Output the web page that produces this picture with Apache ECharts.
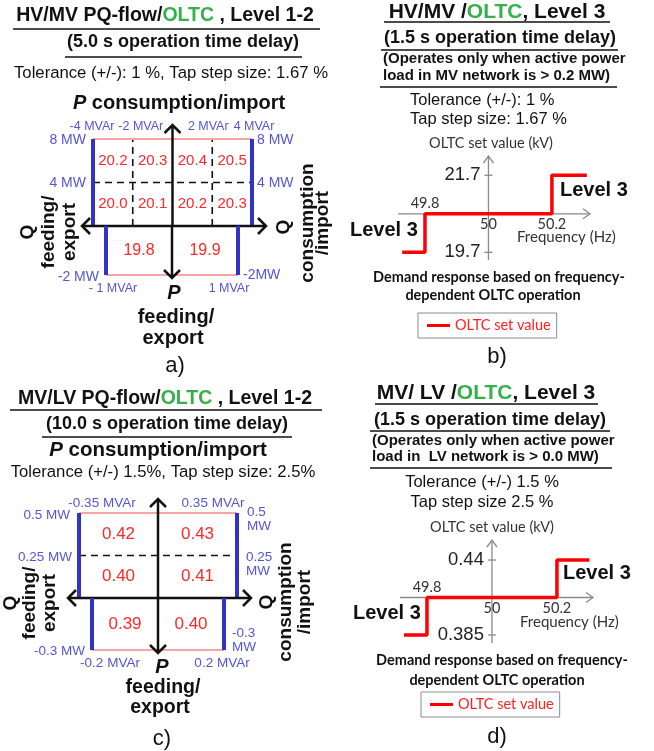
<!DOCTYPE html>
<html><head><meta charset="utf-8">
<script src="https://cdn.jsdelivr.net/npm/echarts@6/dist/echarts.min.js"></script>
<style>html,body{margin:0;padding:0;background:#fff}#c{width:654px;height:751px}</style>
</head><body><div id="c"></div>
<script>
// ================= DATA =================
// a) HV/MV PQ-flow/OLTC, Level 1-2 : OLTC set value (kV) for each PQ cell
const aImportQ = [-4, -2, 0, 2, 4];          // MVAr cell edges (P >= 0)
const aImportP = [0, 4, 8];                  // MW cell edges
const aImportRowLow  = [20.0, 20.1, 20.2, 20.3];   // 0..4 MW
const aImportRowHigh = [20.2, 20.3, 20.4, 20.5];   // 4..8 MW
const aExportQ = [-1, 0, 1];                 // MVAr cell edges (P < 0)
const aExportP = [-2, 0];                    // MW
const aExportRow = [19.8, 19.9];
const aQTopTicks = [-4, -2, 2, 4];
const aQTopLabels = ['-4 MVAr', '-2 MVAr', '2 MVAr', '4 MVAr'];
const aPTicks = [8, 4];
const aPLabels = ['8 MW', '4 MW'];
const aExportQLabels = ['- 1 MVAr', '1 MVAr'];
const aExportPLabels = ['-2 MW', '-2MW'];

// c) MV/LV PQ-flow/OLTC, Level 1-2
const cImportQ = [-0.35, 0, 0.35];
const cImportP = [0, 0.25, 0.5];
const cImportRowLow  = [0.40, 0.41];
const cImportRowHigh = [0.42, 0.43];
const cExportQ = [-0.2, 0, 0.2];
const cExportP = [-0.3, 0];
const cExportRow = [0.39, 0.40];
const cQTopLabels = ['-0.35 MVAr', '0.35 MVAr'];
const cPTicks = [0.5, 0.25];
const cPLabelsLeft = ['0.5 MW', '0.25 MW'];
const cPLabelsRight = ['0.5\nMW', '0.25\nMW'];
const cExportQLabels = ['-0.2 MVAr', '0.2 MVAr'];
const cExportPLabels = ['-0.3 MW', '-0.3\nMW'];

// b) HV/MV OLTC Level 3 : set value vs frequency (step)
const nominalHz = 50;
const bFreq  = [49.728, 49.8, 50.2, 50.31];
const bSetKV = [19.7, 20.7, 21.7, 21.7];
const bFreqTicks = [49.8, 50, 50.2];
const bKVTicks = [21.7, 19.7];
const bMidKV = 20.7;
// d) MV/LV OLTC Level 3
const dFreq  = [49.729, 49.8, 50.2, 50.30];
const dSetKV = [0.385, 0.4125, 0.44, 0.44];
const dFreqTicks = [49.8, 50, 50.2];
const dKVTicks = [0.44, 0.385];
const dMidKV = 0.4125;

// ================= STYLE =================
const SANS = 'Liberation Sans, Arial, sans-serif';
const CAL = 'Lato, sans-serif';
const INK = '#111';
const BLUE_LINE = '#3232c6', BLUE_TXT = '#5555d6', PINK = '#f5a5a5', RED_TXT = '#ff2828',
      GREEN = '#36b04a', RED = '#ff0000', GRAY = '#8a8a8a';

const grids = [
  {left: 93,  top: 139, width: 159, height: 87},   // 0 a import
  {left: 106, top: 226, width: 132, height: 49},   // 1 a export
  {left: 79,  top: 513, width: 158, height: 85},   // 2 c import
  {left: 92,  top: 598, width: 132, height: 52},   // 3 c export
  {left: 398, top: 156, width: 192, height: 104},  // 4 b
  {left: 400, top: 540, width: 193, height: 103}   // 5 d
];
const xRanges = [[aImportQ[0], aImportQ[4]], [aExportQ[0], aExportQ[2]],
                 [cImportQ[0], cImportQ[2]], [cExportQ[0], cExportQ[2]],
                 [49.715, 50.32], [49.717, 50.311]];
const yRanges = [[aImportP[0], aImportP[2]], [aExportP[0], aExportP[1]],
                 [cImportP[0], cImportP[2]], [cExportP[0], cExportP[1]],
                 [19.5, 22.2], [0.3791, 0.4547]];

function lab(q, p, text, dx, dy, align, size) { return {q, p, text, dx, dy, align, size}; }

function pqSeries(o) {
  const {grid, qE, pE, rows, digits, cellSize, upper, labels} = o;
  const cells = [];
  rows.forEach((row, i) => row.forEach((v, j) =>
    cells.push([(qE[j] + qE[j + 1]) / 2, (pE[i] + pE[i + 1]) / 2, v])));
  const qMin = qE[0], qMax = qE[qE.length - 1];
  const pFar = upper ? pE[pE.length - 1] : pE[0];
  const segs = [];
  pE.forEach(p => { if (p !== 0 && p !== pFar) segs.push([qMin, p, qMax, p, 2]); });
  qE.forEach(q => { if (q !== 0 && q !== qMin && q !== qMax) segs.push([q, 0, q, pFar, 2]); });
  segs.push([qMin, pFar, qMax, pFar, 1], [qMin, 0, qMin, pFar, 0], [qMax, 0, qMax, pFar, 0]);
  if (upper) segs.push([qMin, 0, qMax, 0, 3]);
  segs.push([0, 0, 0, pFar, 4]);
  const base = {type: 'custom', xAxisIndex: grid, yAxisIndex: grid, silent: true, clip: false};
  const AX = {stroke: INK, lineWidth: 2.5, fill: 'none'};
  const ln = (x1, y1, x2, y2, style) => ({type: 'line', shape: {x1, y1, x2, y2}, style});
  return [
    {...base, z: 2, data: segs, renderItem: (params, api) => {
      const a = api.coord([api.value(0), api.value(1)]);
      const b = api.coord([api.value(2), api.value(3)]);
      const k = api.value(4);
      if (k === 0) return ln(a[0], a[1], b[0], b[1], {stroke: BLUE_LINE, lineWidth: 4});
      if (k === 1) return ln(a[0], a[1], b[0], b[1], {stroke: PINK, lineWidth: 2});
      if (k === 2) return ln(a[0], a[1], b[0], b[1], {stroke: INK, lineWidth: 1.6, lineDash: [7, 5]});
      if (k === 3) {
        const x1 = a[0] - 11, x2 = b[0] + 14, y = a[1];
        return {type: 'group', children: [
          ln(x1, y, x2, y, AX),
          {type: 'polyline', shape: {points: [[x1 + 8, y - 8], [x1, y], [x1 + 8, y + 8]]}, style: AX},
          {type: 'polyline', shape: {points: [[x2 - 8, y - 8], [x2, y], [x2 - 8, y + 8]]}, style: AX}
        ]};
      }
      const dir = b[1] < a[1] ? -1 : 1;
      const y2 = b[1] + dir * (dir < 0 ? 14 : 3), x = a[0];
      return {type: 'group', children: [
        ln(x, a[1], x, y2, AX),
        {type: 'polyline', shape: {points: [[x - 8, y2 - dir * 8], [x, y2], [x + 8, y2 - dir * 8]]}, style: AX}
      ]};
    }},
    {...base, z: 3, data: cells, renderItem: (params, api) => {
      const c = api.coord([api.value(0), api.value(1)]);
      const t = api.value(2).toFixed(digits);
      return {type: 'text', x: c[0], y: c[1], style: {text: t, fill: RED_TXT, fontSize: cellSize,
        fontFamily: SANS, align: 'center', verticalAlign: 'middle', textAlign: 'center', textVerticalAlign: 'middle'}};
    }},
    {...base, z: 3, data: labels.map(l => [l.q, l.p]), renderItem: (params, api) => {
      const l = labels[params.dataIndex];
      const c = api.coord([api.value(0), api.value(1)]);
      return {type: 'text', x: c[0] + l.dx, y: c[1] + l.dy, style: {text: l.text, fill: BLUE_TXT,
        fontSize: l.size, fontFamily: SANS, lineHeight: 14, align: l.align, verticalAlign: 'middle',
        textAlign: l.align, textVerticalAlign: 'middle'}};
    }}
  ];
}

function freqAxes(grid, fTicks, vTicks, vMid) {
  const data = [[nominalHz, vMid, 0]];
  fTicks.forEach(f => data.push([f, vMid, 1]));
  vTicks.forEach(v => data.push([nominalHz, v, 2]));
  const S = {stroke: GRAY, lineWidth: 1.3, fill: 'none'};
  return {type: 'custom', xAxisIndex: grid, yAxisIndex: grid, silent: true, clip: false, z: 1, data,
    renderItem: (params, api) => {
      const cs = params.coordSys, k = api.value(2);
      const pt = api.coord([api.value(0), api.value(1)]);
      if (k === 0) {
        const xL = cs.x, xR = cs.x + cs.width, yT = cs.y, yB = cs.y + cs.height, y = pt[1], x = pt[0];
        return {type: 'group', children: [
          {type: 'line', shape: {x1: xL, y1: y, x2: xR, y2: y}, style: S},
          {type: 'polyline', shape: {points: [[xR - 7, y - 5], [xR, y], [xR - 7, y + 5]]}, style: S},
          {type: 'line', shape: {x1: x, y1: yB, x2: x, y2: yT}, style: S},
          {type: 'polyline', shape: {points: [[x - 5, yT + 7], [x, yT], [x + 5, yT + 7]]}, style: S}
        ]};
      }
      if (k === 1) {
        const f = api.value(0), above = f < nominalHz;
        return {type: 'text', x: pt[0], y: pt[1] + (above ? -10 : 11), style: {text: String(f), fill: '#333',
          fontSize: 14.5, fontFamily: CAL, align: 'center', verticalAlign: 'middle', textAlign: 'center', textVerticalAlign: 'middle'}};
      }
      return {type: 'group', children: [
        {type: 'line', shape: {x1: pt[0] - 4, y1: pt[1], x2: pt[0] + 4, y2: pt[1]}, style: S},
        {type: 'text', x: pt[0] - 8, y: pt[1], style: {text: String(api.value(1)), fill: '#222', fontSize: 18.5,
          fontFamily: SANS, align: 'right', verticalAlign: 'middle', textAlign: 'right', textVerticalAlign: 'middle'}}
      ]};
    }};
}

const aImportLabels = [
  ...aQTopTicks.map((q, i) => lab(q, aImportP[2], aQTopLabels[i], [-1, 8, -4, 2][i], -12, 'center', 12.5)),
  ...aPTicks.map((p, i) => lab(aImportQ[0], p, aPLabels[i], -7, 1, 'right', 14)),
  ...aPTicks.map((p, i) => lab(aImportQ[4], p, aPLabels[i], 5, 1, 'left', 14))
];
const aExportLabels = [
  lab(aExportQ[0], aExportP[0], aExportPLabels[0], -7, 2, 'right', 14),
  lab(aExportQ[2], aExportP[0], aExportPLabels[1], 5, 0, 'left', 14),
  lab(aExportQ[0], aExportP[0], aExportQLabels[0], 7, 14, 'center', 12.5),
  lab(aExportQ[2], aExportP[0], aExportQLabels[1], -9, 14, 'center', 12.5)
];
const cImportLabels = [
  lab(cImportQ[0], cImportP[2], cQTopLabels[0], 23, -10, 'center', 13.5),
  lab(cImportQ[2], cImportP[2], cQTopLabels[1], -24, -10, 'center', 13.5),
  lab(cImportQ[0], cPTicks[0], cPLabelsLeft[0], -9, 2, 'right', 13.5),
  lab(cImportQ[0], cPTicks[1], cPLabelsLeft[1], -7, 1.5, 'right', 13.5),
  lab(cImportQ[2], cPTicks[0], cPLabelsRight[0], 10, 6.5, 'left', 13.5),
  lab(cImportQ[2], cPTicks[1], cPLabelsRight[1], 9, 9, 'left', 13.5)
];
const cExportLabels = [
  lab(cExportQ[0], cExportP[0], cExportPLabels[0], -7, 1, 'right', 13.5),
  lab(cExportQ[2], cExportP[0], cExportPLabels[1], 8, -9.5, 'left', 13.5),
  lab(cExportQ[0], cExportP[0], cExportQLabels[0], 18, 13, 'center', 13.5),
  lab(cExportQ[2], cExportP[0], cExportQLabels[1], -2, 13, 'center', 13.5)
];

// ================= TEXT (graphic) =================
function T(x, y, text, size, o = {}) {
  const al = o.align || 'center';
  return {type: 'text', x, y, rotation: o.rot || 0, silent: true, z: 10, style: {
    text, fill: o.fill || INK, fontSize: size, fontWeight: o.bold ? 'bold' : 'normal',
    fontStyle: o.italic ? 'italic' : 'normal', fontFamily: o.family || SANS,
    lineHeight: o.lh, rich: o.rich, align: al, verticalAlign: 'middle', textAlign: al, textVerticalAlign: 'middle'}};
}
function U(x1, x2, y) { return {type: 'line', silent: true, shape: {x1, y1: y, x2, y2: y}, style: {stroke: INK, lineWidth: 1.6}}; }
function titleRich(size) {
  return {b: {fontSize: size, fontWeight: 'bold', fontFamily: SANS, fill: INK},
          g: {fontSize: size, fontWeight: 'bold', fontFamily: SANS, fill: GREEN}};
}
function pRich(size) {
  return {i: {fontSize: size, fontWeight: 'bold', fontStyle: 'italic', fontFamily: SANS, fill: INK},
          b: {fontSize: size, fontWeight: 'bold', fontFamily: SANS, fill: INK}};
}
const R = Math.PI / 2;
const graphics = [
  // ---- a ----
  T(165, 16, '{b|HV/MV PQ-flow/}{g|OLTC}{b| , Level 1-2}', 19.5, {bold: true, rich: titleRich(19.5)}),
  U(13, 320, 29),
  T(183, 42, '(5.0 s operation time delay)', 18, {bold: true}),
  U(65, 302, 57),
  T(171, 73, 'Tolerance (+/-): 1 %, Tap step size: 1.67 %', 16.7),
  T(179, 103, '{i|P}{b| consumption/import}', 20, {bold: true, rich: pRich(20)}),
  T(49, 232, 'Q\nfeeding/\nexport', 19, {bold: true, rot: R, lh: 21}),
  T(284, 227, 'Q', 19, {bold: true, rot: R}),
  T(315, 223, 'consumption\n/import', 19, {bold: true, rot: R, lh: 15}),
  T(174, 293, 'P', 20, {bold: true, italic: true}),
  T(176, 317, 'feeding/', 20, {bold: true}),
  T(173, 338, 'export', 20, {bold: true}),
  T(175, 366, 'a)', 22),
  // ---- c ----
  T(165, 399, '{b|MV/LV PQ-flow/}{g|OLTC}{b| , Level 1-2}', 19.5, {bold: true, rich: titleRich(19.5)}),
  U(10, 322, 410),
  T(167, 424, '(10.0 s operation time delay)', 18, {bold: true}),
  U(42, 292, 437),
  T(158, 450, '{i|P}{b| consumption/import}', 20.5, {bold: true, rich: pRich(20.5)}),
  T(163, 472, 'Tolerance (+/-) 1.5%, Tap step size: 2.5%', 16.7),
  T(30, 603, 'Q\nfeeding/\nexport', 19, {bold: true, rot: R, lh: 19.5}),
  T(286, 602, 'Q\nconsumption\n/import', 19, {bold: true, rot: R, lh: 19}),
  T(162, 667, 'P', 20, {bold: true, italic: true}),
  T(163, 688, 'feeding/', 19.5, {bold: true}),
  T(160, 708, 'export', 19.5, {bold: true}),
  T(162, 739, 'c)', 22),
  // ---- b ----
  T(497, 12, '{b|HV/MV /}{g|OLTC}{b|, Level 3}', 21, {bold: true, rich: titleRich(21)}),
  U(384, 610, 22),
  T(500, 38, '(1.5 s operation time delay)', 18, {bold: true}),
  U(381, 618, 50),
  T(383, 59, '(Operates only when active power', 15, {bold: true, align: 'left'}),
  T(383, 76, 'load in MV network is > 0.2 MW)', 15, {bold: true, align: 'left'}),
  U(380, 617, 87),
  T(410, 100, 'Tolerance (+/-): 1 %', 16.5, {align: 'left'}),
  T(410, 119, 'Tap step size: 1.67 %', 16.5, {align: 'left'}),
  T(491, 143, 'OLTC set value (kV)', 14.5, {family: CAL, fill: '#333'}),
  T(517, 237, 'Frequency (Hz)', 15, {family: CAL, fill: '#333', align: 'left'}),
  T(560, 190, 'Level 3', 20, {bold: true, align: 'left'}),
  T(350, 230, 'Level 3', 20, {bold: true, align: 'left'}),
  T(499, 277, 'Demand response based on frequency-', 14.5, {bold: true, family: CAL}),
  T(493, 295, 'dependent OLTC operation', 14.5, {bold: true, family: CAL}),
  T(497, 357, 'b)', 22),
  // ---- d ----
  T(486, 393, '{b|MV/ LV /}{g|OLTC}{b|, Level 3}', 21, {bold: true, rich: titleRich(21)}),
  U(375, 598, 404),
  T(490, 420, '(1.5 s operation time delay)', 18, {bold: true}),
  U(370, 610, 431),
  T(372, 441, '(Operates only when active power', 15, {bold: true, align: 'left'}),
  T(372, 457, 'load in  LV network is > 0.0 MW)', 15, {bold: true, align: 'left'}),
  U(370, 612, 468),
  T(482, 482, 'Tolerance (+/-) 1.5 %', 16.5),
  T(482, 502, 'Tap step size 2.5 %', 16.5),
  T(492, 527, 'OLTC set value (kV)', 14.5, {family: CAL, fill: '#333'}),
  T(520, 622, 'Frequency (Hz)', 15, {family: CAL, fill: '#333', align: 'left'}),
  T(563, 573, 'Level 3', 20, {bold: true, align: 'left'}),
  T(353, 613, 'Level 3', 20, {bold: true, align: 'left'}),
  T(502, 660, 'Demand response based on frequency-', 14.5, {bold: true, family: CAL}),
  T(497, 680, 'dependent OLTC operation', 14.5, {bold: true, family: CAL}),
  T(497, 737, 'd)', 22)
];

const legendBase = {data: ['OLTC set value'], orient: 'horizontal', icon: 'rect', itemWidth: 23, itemHeight: 3,
  padding: [5, 6, 5, 9], borderColor: '#8c8c8c', borderWidth: 1, borderRadius: 0, selectedMode: false,
  textStyle: {color: '#ff2020', fontFamily: CAL, fontSize: 14.5}};

const option = {
  backgroundColor: '#fff',
  animation: false,
  grid: grids.map(g => ({...g, containLabel: false, show: false})),
  xAxis: xRanges.map((r, i) => ({type: 'value', gridIndex: i, min: r[0], max: r[1], show: false})),
  yAxis: yRanges.map((r, i) => ({type: 'value', gridIndex: i, min: r[0], max: r[1], show: false})),
  legend: [{...legendBase, left: 418, top: 313}, {...legendBase, left: 421, top: 692}],
  series: [
    ...pqSeries({grid: 0, qE: aImportQ, pE: aImportP, rows: [aImportRowLow, aImportRowHigh], digits: 1, cellSize: 15, upper: true, labels: aImportLabels}),
    ...pqSeries({grid: 1, qE: aExportQ, pE: aExportP, rows: [aExportRow], digits: 1, cellSize: 16, upper: false, labels: aExportLabels}),
    ...pqSeries({grid: 2, qE: cImportQ, pE: cImportP, rows: [cImportRowLow, cImportRowHigh], digits: 2, cellSize: 17, upper: true, labels: cImportLabels}),
    ...pqSeries({grid: 3, qE: cExportQ, pE: cExportP, rows: [cExportRow], digits: 2, cellSize: 17, upper: false, labels: cExportLabels}),
    freqAxes(4, bFreqTicks, bKVTicks, bMidKV),
    freqAxes(5, dFreqTicks, dKVTicks, dMidKV),
    {type: 'line', name: 'OLTC set value', xAxisIndex: 4, yAxisIndex: 4, z: 5, silent: true,
     data: bFreq.map((f, i) => [f, bSetKV[i]]), step: 'end', symbol: 'none',
     lineStyle: {color: RED, width: 3.5}, itemStyle: {color: RED}},
    {type: 'line', name: 'OLTC set value', xAxisIndex: 5, yAxisIndex: 5, z: 5, silent: true,
     data: dFreq.map((f, i) => [f, dSetKV[i]]), step: 'end', symbol: 'none',
     lineStyle: {color: RED, width: 3.5}, itemStyle: {color: RED}}
  ],
  graphic: graphics
};
const chart = echarts.init(document.getElementById('c'));
chart.setOption(option);
</script>
</body></html>
